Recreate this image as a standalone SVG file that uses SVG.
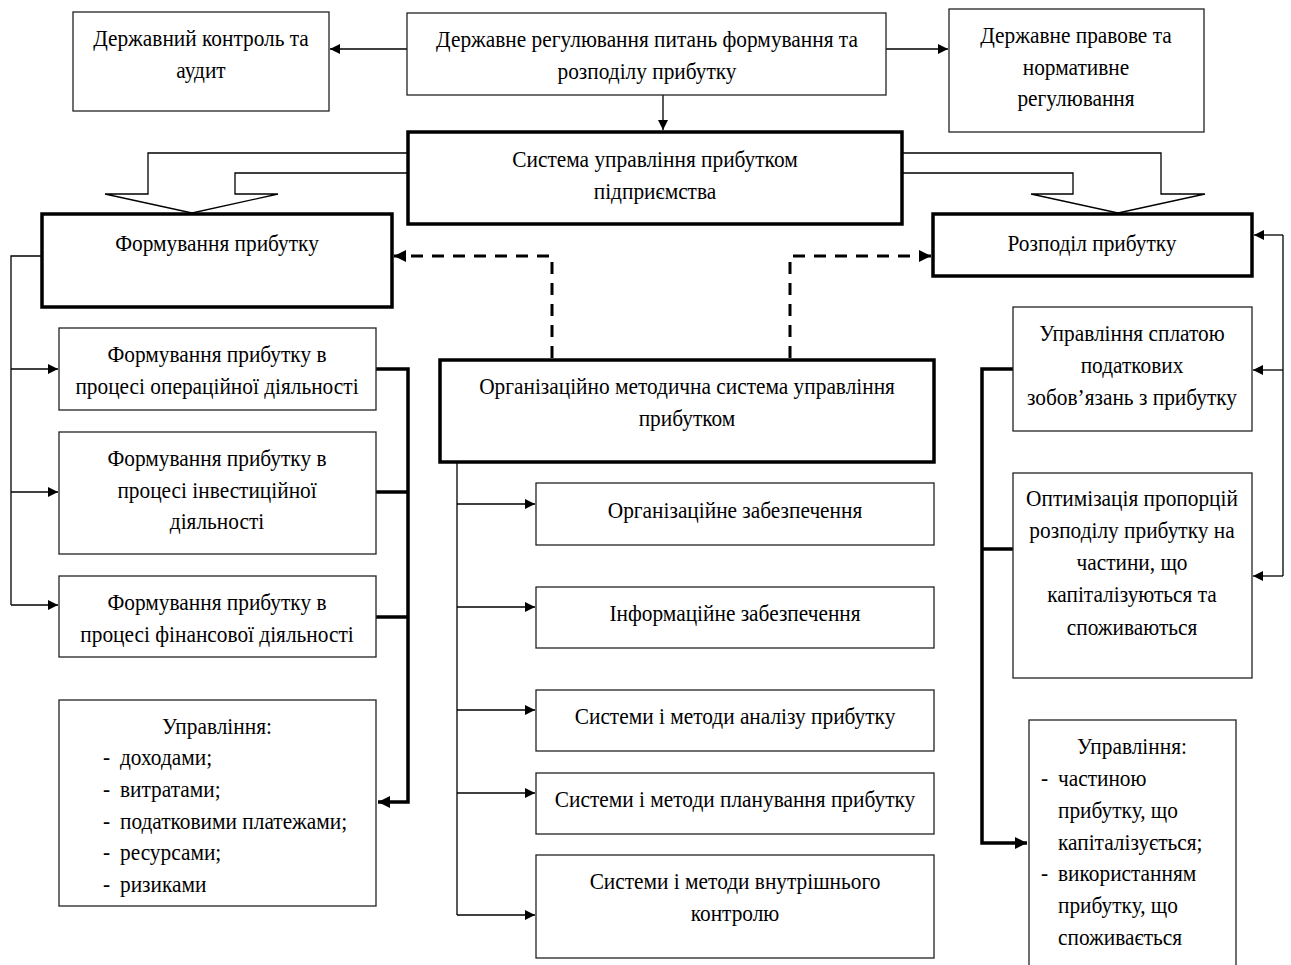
<svg xmlns="http://www.w3.org/2000/svg" width="1291" height="965" viewBox="0 0 1291 965">
<defs>
<style>
.t{font-family:"Liberation Serif","Times New Roman",serif;font-size:24px;fill:#000;text-anchor:middle;transform-box:fill-box;transform-origin:center;transform:scaleX(0.89)}
.l{font-family:"Liberation Serif","Times New Roman",serif;font-size:24px;fill:#000;transform-box:fill-box;transform-origin:0 50%;transform:scaleX(0.89)}
.b{fill:#fff;stroke:#222;stroke-width:1.3}
.B{fill:#fff;stroke:#000;stroke-width:3.5}
.c{fill:none;stroke:#000;stroke-width:1.3}
.C{fill:none;stroke:#000;stroke-width:3.5}
.d{fill:none;stroke:#000;stroke-width:3;stroke-dasharray:12,9}
</style>
<marker id="a" viewBox="0 0 10 10" refX="10" refY="5" markerWidth="10" markerHeight="10" markerUnits="userSpaceOnUse" orient="auto"><path d="M0,0L10,5L0,10z" fill="#000"/></marker>
<marker id="A" viewBox="0 0 10 10" refX="10" refY="5" markerWidth="12" markerHeight="12" markerUnits="userSpaceOnUse" orient="auto"><path d="M0,0L10,5L0,10z" fill="#000"/></marker>
</defs>
<rect width="1291" height="965" fill="#fff"/>

<g id="connectors">
<line class="c" x1="407" y1="49" x2="330" y2="49" marker-end="url(#a)"/>
<line class="c" x1="886" y1="49" x2="948" y2="49" marker-end="url(#a)"/>
<line class="c" x1="663" y1="95" x2="663" y2="130" stroke-width="2" marker-end="url(#a)"/>
<path class="c" d="M408,153H148V194H105L192,213L278,194H235V173H408"/>
<path class="c" d="M902,153H1161V194H1205L1118,213L1031,194H1073V173H902"/>
<path class="d" d="M552,358V256H394" marker-end="url(#A)"/>
<path class="d" d="M790,358V256H931" marker-end="url(#A)"/>
<path class="c" d="M42,256H11V605"/>
<line class="c" x1="11" y1="369" x2="58" y2="369" marker-end="url(#a)"/>
<line class="c" x1="11" y1="492" x2="58" y2="492" marker-end="url(#a)"/>
<line class="c" x1="11" y1="605" x2="58" y2="605" marker-end="url(#a)"/>
<path class="C" d="M376,369H408V802H378" marker-end="url(#A)"/>
<line class="C" x1="376" y1="492" x2="408" y2="492"/>
<line class="C" x1="376" y1="617" x2="408" y2="617"/>
<path class="c" d="M457,462V915"/>
<line class="c" x1="457" y1="504" x2="535" y2="504" marker-end="url(#a)"/>
<line class="c" x1="457" y1="607" x2="535" y2="607" marker-end="url(#a)"/>
<line class="c" x1="457" y1="710" x2="535" y2="710" marker-end="url(#a)"/>
<line class="c" x1="457" y1="793" x2="535" y2="793" marker-end="url(#a)"/>
<line class="c" x1="457" y1="915" x2="535" y2="915" marker-end="url(#a)"/>
<path class="c" d="M1283,235V576"/>
<line class="c" x1="1283" y1="235" x2="1254" y2="235" marker-end="url(#a)"/>
<line class="c" x1="1283" y1="370" x2="1253" y2="370" marker-end="url(#a)"/>
<line class="c" x1="1283" y1="576" x2="1253" y2="576" marker-end="url(#a)"/>
<path class="C" d="M1013,369H982V843H1027" marker-end="url(#A)"/>
<line class="C" x1="982" y1="549" x2="1013" y2="549"/>
</g>

<g id="n-control"><rect class="b" x="73" y="12" width="256" height="99"/>
<text class="t" x="201" y="46">Державний контроль та</text><text class="t" x="201" y="78">аудит</text></g>
<g id="n-regulation"><rect class="b" x="407" y="13" width="479" height="82"/>
<text class="t" x="647" y="47">Державне регулювання питань формування та</text><text class="t" x="647" y="79">розподілу прибутку</text></g>
<g id="n-legal"><rect class="b" x="949" y="9" width="255" height="123"/>
<text class="t" x="1076" y="43">Державне правове та</text><text class="t" x="1076" y="75">нормативне</text><text class="t" x="1076" y="106">регулювання</text></g>
<g id="n-system"><rect class="B" x="408" y="132" width="494" height="92"/>
<text class="t" x="655" y="167">Система управління прибутком</text><text class="t" x="655" y="199">підприємства</text></g>
<g id="n-forming"><rect class="B" x="42" y="214" width="350" height="93"/>
<text class="t" x="217" y="251">Формування прибутку</text></g>
<g id="n-distribution"><rect class="B" x="933" y="214" width="319" height="62"/>
<text class="t" x="1092" y="251">Розподіл прибутку</text></g>
<g id="n-f1"><rect class="b" x="59" y="328" width="317" height="82"/>
<text class="t" x="217" y="362">Формування прибутку в</text><text class="t" x="217" y="394">процесі операційної діяльності</text></g>
<g id="n-f2"><rect class="b" x="59" y="432" width="317" height="122"/>
<text class="t" x="217" y="466">Формування прибутку в</text><text class="t" x="217" y="498">процесі інвестиційної</text><text class="t" x="217" y="529">діяльності</text></g>
<g id="n-f3"><rect class="b" x="59" y="576" width="317" height="81"/>
<text class="t" x="217" y="610">Формування прибутку в</text><text class="t" x="217" y="642">процесі фінансової діяльності</text></g>
<g id="n-f4"><rect class="b" x="59" y="700" width="317" height="206"/>
<text class="t" x="217" y="734">Управління:</text>
<text class="l" x="103" y="765">-</text><text class="l" x="120" y="765">доходами;</text>
<text class="l" x="103" y="797">-</text><text class="l" x="120" y="797">витратами;</text>
<text class="l" x="103" y="829">-</text><text class="l" x="120" y="829">податковими платежами;</text>
<text class="l" x="103" y="860">-</text><text class="l" x="120" y="860">ресурсами;</text>
<text class="l" x="103" y="892">-</text><text class="l" x="120" y="892">ризиками</text></g>
<g id="n-org"><rect class="B" x="440" y="360" width="494" height="102"/>
<text class="t" x="687" y="394">Організаційно методична система управління</text><text class="t" x="687" y="426">прибутком</text></g>
<g id="n-m1"><rect class="b" x="536" y="483" width="398" height="62"/><text class="t" x="735" y="518">Організаційне забезпечення</text></g>
<g id="n-m2"><rect class="b" x="536" y="587" width="398" height="61"/><text class="t" x="735" y="621">Інформаційне забезпечення</text></g>
<g id="n-m3"><rect class="b" x="536" y="690" width="398" height="61"/><text class="t" x="735" y="724">Системи і методи аналізу прибутку</text></g>
<g id="n-m4"><rect class="b" x="536" y="773" width="398" height="61"/><text class="t" x="735" y="807">Системи і методи планування прибутку</text></g>
<g id="n-m5"><rect class="b" x="536" y="855" width="398" height="103"/><text class="t" x="735" y="889">Системи і методи внутрішнього</text><text class="t" x="735" y="921">контролю</text></g>
<g id="n-r1"><rect class="b" x="1013" y="307" width="239" height="124"/>
<text class="t" x="1132" y="341">Управління сплатою</text><text class="t" x="1132" y="373">податкових</text><text class="t" x="1132" y="405">зобов’язань з прибутку</text></g>
<g id="n-r2"><rect class="b" x="1013" y="473" width="239" height="205"/>
<text class="t" x="1132" y="506">Оптимізація пропорцій</text><text class="t" x="1132" y="538">розподілу прибутку на</text><text class="t" x="1132" y="570">частини, що</text><text class="t" x="1132" y="602">капіталізуються та</text><text class="t" x="1132" y="635">споживаються</text></g>
<g id="n-r3"><rect class="b" x="1029" y="720" width="207" height="250"/>
<text class="t" x="1132" y="754">Управління:</text>
<text class="l" x="1041" y="786">-</text><text class="l" x="1058" y="786">частиною</text>
<text class="l" x="1058" y="818">прибутку, що</text>
<text class="l" x="1058" y="850">капіталізується;</text>
<text class="l" x="1041" y="881">-</text><text class="l" x="1058" y="881">використанням</text>
<text class="l" x="1058" y="913">прибутку, що</text>
<text class="l" x="1058" y="945">споживається</text></g>
</svg>
